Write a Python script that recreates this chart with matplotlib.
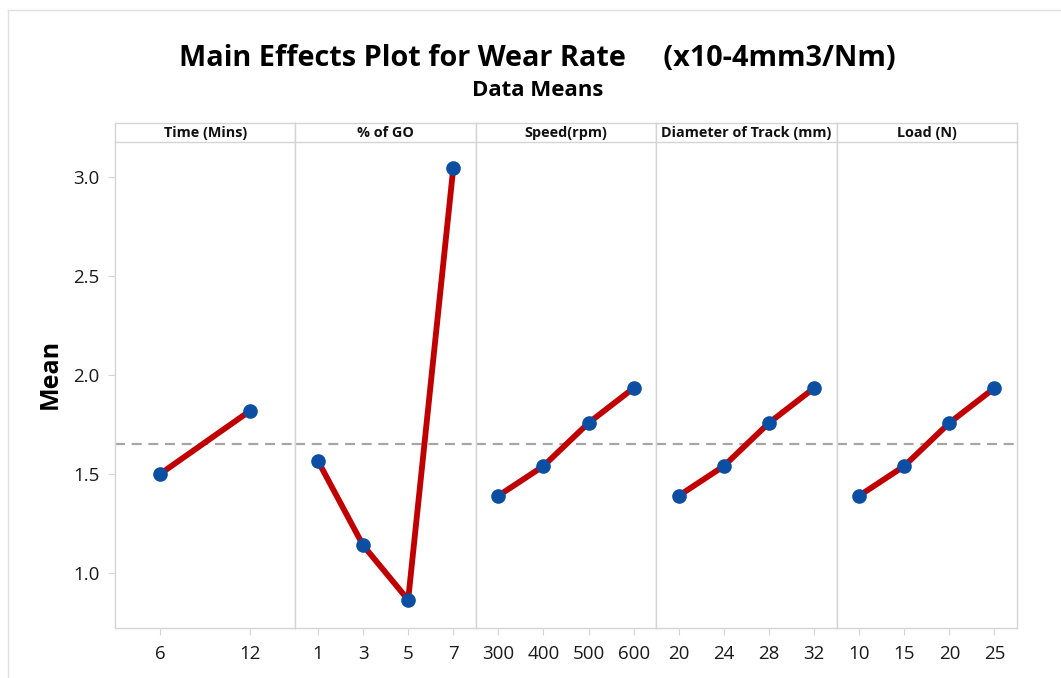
import matplotlib
matplotlib.use("Agg")
import matplotlib.pyplot as plt
from matplotlib.lines import Line2D

plt.rcParams['font.family'] = ['Open Sans', 'DejaVu Sans']

factors = ["Time (Mins)", "% of GO", "Speed(rpm)", "Diameter of Track (mm)", "Load (N)"]
levels = [
    ["6", "12"],
    ["1", "3", "5", "7"],
    ["300", "400", "500", "600"],
    ["20", "24", "28", "32"],
    ["10", "15", "20", "25"],
]
means = [
    [1.50, 1.82],
    [1.566, 1.14, 0.864, 3.045],
    [1.39, 1.54, 1.758, 1.934],
    [1.39, 1.54, 1.758, 1.934],
    [1.39, 1.54, 1.758, 1.934],
]
grand_mean = 1.652
yticks = [1.0, 1.5, 2.0, 2.5, 3.0]
ylim = (0.722, 3.177)

W, H = 1061, 678
fig = plt.figure(figsize=(W / 100, H / 100), dpi=100)

left_px, right_px = 115, 1017
top_px, strip_bot_px, bot_px = 123, 142, 628
pw = (right_px - left_px) / len(factors)
gridc = "#d4d4d4"

def fx(px):
    return px / W

def fy(px):
    return 1 - px / H

for i, (fac, lv, mv) in enumerate(zip(factors, levels, means)):
    x0 = left_px + i * pw
    ax = fig.add_axes([fx(x0), fy(bot_px), pw / W, (bot_px - strip_bot_px) / H])
    xs = list(range(len(lv)))
    ax.plot(xs, mv, color="#c00000", lw=4.2, solid_capstyle="butt", zorder=3)
    ax.plot(xs, mv, ls="none", marker="o", ms=9.5, color="#0b4ea2", zorder=4)
    ax.axhline(grand_mean, color="#a6a6a6", lw=1.6, ls=(0, (4.5, 3)), zorder=2)
    ax.set_xlim(-0.5, len(lv) - 0.5)
    ax.set_ylim(*ylim)
    ax.set_xticks(xs)
    ax.set_xticklabels(lv, fontsize=13.5, fontweight='medium')
    for s in ax.spines.values():
        s.set_color(gridc)
        s.set_linewidth(1.0)
    ax.spines['top'].set_visible(False)
    ax.tick_params(axis='x', direction='out', length=5, color=gridc, pad=7,
                   labelcolor="#1a1a1a")
    if i == 0:
        ax.set_yticks(yticks)
        ax.set_yticklabels([f"{v:.1f}" for v in yticks], fontsize=13.5,
                           fontweight='medium')
        ax.tick_params(axis='y', direction='out', length=5, color=gridc, pad=6,
                       labelcolor="#1a1a1a")
        ax.set_ylabel("Mean", fontsize=18, fontweight='bold')
        ax.yaxis.set_label_coords(-(115 - 63) / pw, (628 - 374) / (628 - 142))
    else:
        ax.set_yticks([])
    # strip
    sax = fig.add_axes([fx(x0), fy(strip_bot_px), pw / W, (strip_bot_px - top_px) / H])
    sax.set_xticks([])
    sax.set_yticks([])
    for s in sax.spines.values():
        s.set_color(gridc)
        s.set_linewidth(1.0)
    sax.text(0.5, 0.45, fac, ha='center', va='center', fontsize=10.4,
             fontweight='bold', transform=sax.transAxes, color="#111111")

fig.text(fx(537), fy(59), "Main Effects Plot for Wear Rate     (x10-4mm3/Nm)",
         ha='center', va='center', fontsize=20.8, fontweight='bold')
fig.text(fx(538), fy(90), "Data Means", ha='center', va='center',
         fontsize=16, fontweight='bold')

# faint outer frame lines (left and top)
fig.add_artist(Line2D([fx(8), fx(8)], [fy(10), 0], color="#e0e0e0", lw=1.0))
fig.add_artist(Line2D([fx(8), 1], [fy(10), fy(10)], color="#e0e0e0", lw=1.0))

fig.savefig("out.png", dpi=100)
